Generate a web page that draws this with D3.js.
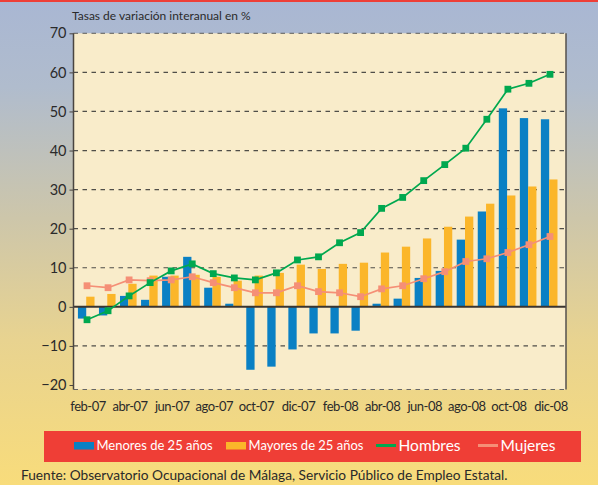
<!DOCTYPE html>
<html>
<head>
<meta charset="utf-8">
<script src="https://cdn.jsdelivr.net/npm/d3@7"></script>
<style>
  body { margin: 0; }
  svg { display: block; font-family: Lato, "Open Sans", sans-serif; }
</style>
</head>
<body>
<div id="container"></div>
<script>
// ---------------- DATA ----------------
const months = ["feb-07", "mar-07", "abr-07", "may-07", "jun-07", "jul-07", "ago-07", "sep-07",
  "oct-07", "nov-07", "dic-07", "ene-08", "feb-08", "mar-08", "abr-08", "may-08", "jun-08",
  "jul-08", "ago-08", "sep-08", "oct-08", "nov-08", "dic-08"];
const tickLabels = ["feb-07", "abr-07", "jun-07", "ago-07", "oct-07", "dic-07",
  "feb-08", "abr-08", "jun-08", "ago-08", "oct-08", "dic-08"];
const yTicks = [-20, -10, 0, 10, 20, 30, 40, 50, 60, 70];

const menores = [-3.0, -2.2, 2.8, 1.8, 7.7, 12.8, 4.9, 0.8, -16.1, -15.3, -10.9, -6.8,
  -6.8, -6.1, 0.8, 2.1, 7.4, 9.2, 17.2, 24.4, 50.8, 48.3, 48.0];
const mayores = [2.6, 3.3, 5.9, 8.0, 8.0, 8.2, 7.7, 6.7, 8.0, 8.7, 10.8, 9.7,
  11.0, 11.3, 13.9, 15.4, 17.5, 20.5, 23.1, 26.4, 28.5, 30.8, 32.6];
const hombres = [-3.3, -1.0, 2.8, 6.2, 9.2, 11.0, 8.5, 7.4, 6.9, 8.7, 12.0, 12.8,
  16.4, 19.0, 25.2, 28.0, 32.3, 36.4, 40.6, 48.0, 55.7, 57.2, 59.5];
const mujeres = [5.4, 4.9, 6.9, 6.7, 6.9, 7.7, 6.2, 4.9, 3.6, 3.6, 5.4, 3.9,
  3.6, 2.6, 4.6, 5.4, 7.2, 9.0, 11.6, 12.3, 13.9, 15.9, 18.0];

const seriesNames = ["Menores de 25 años", "Mayores de 25 años", "Hombres", "Mujeres"];
const colors = { blue: "#0a80c4", yellow: "#fbb62a", green: "#00a84f", salmon: "#f58f76" };

// ---------------- SETUP ----------------
const width = 598, height = 485;
const plot = { left: 73.5, right: 566, top: 33.3, bottom: 389.5 };

const svg = d3.select("#container").append("svg")
  .attr("width", width)
  .attr("height", height);

const defs = svg.append("defs");
const bg = defs.append("linearGradient").attr("id", "bg")
  .attr("x1", 0).attr("y1", 0).attr("x2", 0).attr("y2", 1);
[["0%", "#a9b7d3"], ["18%", "#b0bccd"], ["45%", "#cdc6aa"], ["70%", "#e8d390"], ["100%", "#f8dc7b"]]
  .forEach(s => bg.append("stop").attr("offset", s[0]).attr("stop-color", s[1]));

svg.append("rect").attr("width", width).attr("height", height).attr("fill", "url(#bg)");
svg.append("rect").attr("width", width).attr("height", 2).attr("fill", "#ee3f37");

// ---------------- SCALES ----------------
const x = d3.scaleBand().domain(months).range([78.6, 558.4]).paddingInner(0.2);
const xc = d => x(d) + x.bandwidth() / 2;
const y = d3.scaleLinear().domain([-21.15, 70]).range([plot.bottom, plot.top]);
const barW = 8.3;

// plot area
svg.append("rect")
  .attr("x", plot.left).attr("y", plot.top)
  .attr("width", plot.right - plot.left).attr("height", plot.bottom - plot.top)
  .attr("fill", "#f9ecca");

// grid lines
svg.append("g")
  .selectAll("line")
  .data(yTicks.filter(t => t !== 0 && t !== -20))
  .enter().append("line")
  .attr("x1", plot.left).attr("x2", plot.right)
  .attr("y1", d => y(d)).attr("y2", d => y(d))
  .attr("stroke", "#333")
  .attr("stroke-opacity", d => d === 70 ? 0.6 : 0.85)
  .attr("stroke-width", 1.2)
  .attr("stroke-dasharray", "4.5,4.5");

// bottom border dashed
svg.append("line")
  .attr("x1", plot.left).attr("x2", plot.right)
  .attr("y1", plot.bottom).attr("y2", plot.bottom)
  .attr("stroke", "#666").attr("stroke-width", 1.2).attr("stroke-dasharray", "4.5,4.5");

// ---------------- BARS ----------------
svg.append("g").selectAll("rect")
  .data(months.map((m, i) => ({ m: m, v: menores[i] })))
  .enter().append("rect")
  .attr("x", d => xc(d.m) - barW - 0.8)
  .attr("width", barW)
  .attr("y", d => y(Math.max(0, d.v)))
  .attr("height", d => Math.abs(y(d.v) - y(0)))
  .attr("fill", colors.blue);

svg.append("g").selectAll("rect")
  .data(months.map((m, i) => ({ m: m, v: mayores[i] })))
  .enter().append("rect")
  .attr("x", d => xc(d.m) - 0.8)
  .attr("width", barW)
  .attr("y", d => y(Math.max(0, d.v)))
  .attr("height", d => Math.abs(y(d.v) - y(0)))
  .attr("fill", colors.yellow);

// zero line
svg.append("line")
  .attr("x1", plot.left).attr("x2", plot.right)
  .attr("y1", y(0)).attr("y2", y(0))
  .attr("stroke", "#3a3530").attr("stroke-width", 2);

// axes lines
svg.append("line")
  .attr("x1", plot.left).attr("x2", plot.left)
  .attr("y1", plot.top).attr("y2", plot.bottom)
  .attr("stroke", "#4a4540").attr("stroke-width", 1.5);
svg.append("line")
  .attr("x1", plot.right).attr("x2", plot.right)
  .attr("y1", plot.top).attr("y2", plot.bottom)
  .attr("stroke", "#55514c").attr("stroke-width", 1.5);

// ---------------- LINES ----------------
const line = d3.line()
  .x((d, i) => xc(months[i]))
  .y(d => y(d));

function drawSeries(values, color) {
  const g = svg.append("g");
  g.append("path")
    .attr("d", line(values))
    .attr("fill", "none")
    .attr("stroke", color)
    .attr("stroke-width", 1.7);
  g.selectAll("rect")
    .data(values)
    .enter().append("rect")
    .attr("x", (d, i) => xc(months[i]) - 3.4)
    .attr("y", d => y(d) - 3.4)
    .attr("width", 6.8).attr("height", 6.8)
    .attr("fill", color);
}
drawSeries(mujeres, colors.salmon);
drawSeries(hombres, colors.green);

// ---------------- AXES ----------------
const yaxis = d3.axisLeft(y).tickValues(yTicks).tickSize(4).tickPadding(3);
svg.append("g")
  .attr("transform", "translate(" + plot.left + ",0)")
  .call(yaxis)
  .call(g => g.select(".domain").remove())
  .call(g => g.selectAll("line").attr("stroke", "#4a4540"))
  .call(g => g.selectAll("text")
    .attr("font-size", 14.5)
    .attr("font-family", "Lato, sans-serif")
    .attr("fill", "#2a2a2a"));

const xaxis = d3.axisBottom(x).tickValues(tickLabels).tickSize(0).tickPadding(12);
svg.append("g")
  .attr("transform", "translate(1," + plot.bottom + ")")
  .call(xaxis)
  .call(g => g.select(".domain").remove())
  .call(g => g.selectAll("text")
    .attr("font-size", 13)
    .attr("font-family", "Lato, sans-serif")
    .attr("letter-spacing", "-0.5px")
    .attr("fill", "#2a2a2a"));

// title
svg.append("text")
  .attr("x", 72).attr("y", 20)
  .attr("font-size", 12)
  .attr("fill", "#2a2a2a")
  .text("Tasas de variación interanual en %");

// ---------------- LEGEND ----------------
svg.append("rect")
  .attr("x", 44).attr("y", 431).attr("width", 537).attr("height", 31)
  .attr("fill", "#ef3e36");

const legendItems = [
  { name: seriesNames[0], color: colors.blue, type: "box", x: 74, size: 13 },
  { name: seriesNames[1], color: colors.yellow, type: "box", x: 226, size: 13 },
  { name: seriesNames[2], color: colors.green, type: "line", x: 376, size: 15.5 },
  { name: seriesNames[3], color: colors.salmon, type: "line", x: 478, size: 15.5 }
];
const lg = svg.append("g").selectAll("g")
  .data(legendItems).enter().append("g");
lg.append("rect")
  .attr("x", d => d.x)
  .attr("y", d => d.type === "box" ? 442 : 444)
  .attr("width", 20)
  .attr("height", d => d.type === "box" ? 7.5 : 3)
  .attr("fill", d => d.color);
lg.append("text")
  .attr("x", d => d.x + 22.5)
  .attr("y", d => d.type === "box" ? 450 : 451)
  .attr("font-size", d => d.size)
  .attr("fill", "#fff")
  .text(d => d.name);

// source
svg.append("text")
  .attr("x", 21).attr("y", 480)
  .attr("font-size", 13.7)
  .attr("fill", "#2a2a2a")
  .text("Fuente: Observatorio Ocupacional de Málaga, Servicio Público de Empleo Estatal.");
</script>
</body>
</html>
